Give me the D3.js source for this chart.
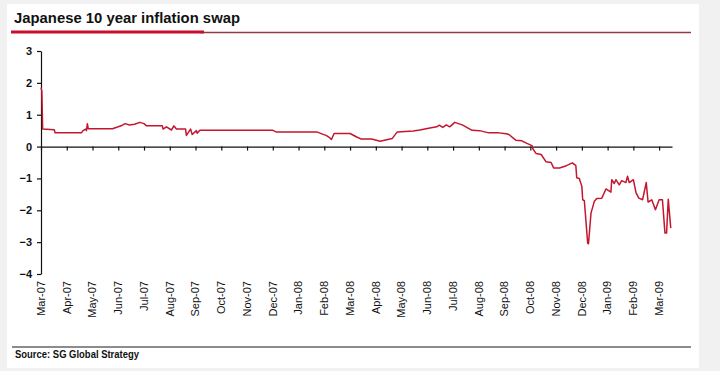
<!DOCTYPE html>
<html lang="en">
<head>
<meta charset="utf-8">
<title>Japanese 10 year inflation swap</title>
<style>
	body { margin: 0; background: #f1f1f1; }
	svg { display: block; }
	.axis text { font-family: "Liberation Sans", Arial, sans-serif; font-size: 11px; fill: #111; }
	.axis path, .axis line { stroke: #111; stroke-width: 1.2; }
</style>
</head>
<body>
<div id="chart"></div>
<script src="https://cdn.jsdelivr.net/npm/d3@7"></script>
<script>

	// month labels along the bottom, one per month from Mar-07 to Mar-09
	const months = ["Mar-07", "Apr-07", "May-07", "Jun-07", "Jul-07", "Aug-07", "Sep-07", "Oct-07",
		"Nov-07", "Dec-07", "Jan-08", "Feb-08", "Mar-08", "Apr-08", "May-08", "Jun-08", "Jul-08",
		"Aug-08", "Sep-08", "Oct-08", "Nov-08", "Dec-08", "Jan-09", "Feb-09", "Mar-09"];

	const yTicks = [-4, -3, -2, -1, 0, 1, 2, 3];

	// swap level (%)
	const dates = [
		"2007-03-01", "2007-03-02", "2007-03-03", "2007-03-17", "2007-03-18", "2007-04-18", "2007-04-20",
		"2007-04-23", "2007-04-24", "2007-04-25", "2007-04-26", "2007-05-25", "2007-06-01", "2007-06-05",
		"2007-06-09", "2007-06-14", "2007-06-20", "2007-06-26", "2007-07-01", "2007-07-04", "2007-07-23",
		"2007-07-24", "2007-07-28", "2007-08-03", "2007-08-06", "2007-08-09", "2007-08-20", "2007-08-21",
		"2007-08-26", "2007-08-28", "2007-09-02", "2007-09-03", "2007-09-06", "2007-12-01", "2007-12-05",
		"2008-01-23", "2008-01-29", "2008-02-03", "2008-02-07", "2008-02-09", "2008-02-12", "2008-03-01",
		"2008-03-09", "2008-03-14", "2008-03-27", "2008-04-06", "2008-04-20", "2008-04-26", "2008-05-15",
		"2008-05-23", "2008-06-04", "2008-06-12", "2008-06-15", "2008-06-19", "2008-06-23", "2008-06-27",
		"2008-07-03", "2008-07-12", "2008-07-24", "2008-08-02", "2008-08-13", "2008-08-25", "2008-09-03",
		"2008-09-06", "2008-09-14", "2008-09-21", "2008-09-27", "2008-10-03", "2008-10-04", "2008-10-08",
		"2008-10-14", "2008-10-20", "2008-10-26", "2008-10-29", "2008-11-05", "2008-11-13", "2008-11-20",
		"2008-11-24", "2008-11-25", "2008-11-28", "2008-12-01", "2008-12-02", "2008-12-04", "2008-12-08",
		"2008-12-09", "2008-12-12", "2008-12-16", "2008-12-19", "2008-12-25", "2008-12-30", "2009-01-05",
		"2009-01-06", "2009-01-09", "2009-01-11", "2009-01-15", "2009-01-18", "2009-01-23", "2009-01-25",
		"2009-01-27", "2009-02-01", "2009-02-04", "2009-02-07", "2009-02-11", "2009-02-15", "2009-02-17",
		"2009-02-21", "2009-02-25", "2009-03-01", "2009-03-05", "2009-03-08", "2009-03-10", "2009-03-12",
		"2009-03-15"];

	const values = [
		1.85, 1.75, 0.55, 0.53, 0.43, 0.43, 0.50,
		0.55, 0.50, 0.72, 0.56, 0.56, 0.62, 0.66,
		0.72, 0.68, 0.70, 0.76, 0.72, 0.65, 0.65,
		0.55, 0.62, 0.52, 0.65, 0.55, 0.55, 0.35,
		0.55, 0.38, 0.50, 0.42, 0.51, 0.51, 0.46,
		0.46, 0.40, 0.35, 0.28, 0.22, 0.41, 0.41,
		0.30, 0.24, 0.24, 0.17, 0.25, 0.46, 0.49,
		0.52, 0.58, 0.62, 0.67, 0.60, 0.68, 0.62,
		0.76, 0.68, 0.51, 0.50, 0.43, 0.43, 0.40,
		0.38, 0.20, 0.18, 0.10, 0.03, -0.07, -0.22,
		-0.25, -0.48, -0.50, -0.67, -0.67, -0.60, -0.51,
		-0.60, -0.98, -1.00, -1.25, -1.67, -1.70, -3.03,
		-3.05, -2.09, -1.72, -1.63, -1.62, -1.33, -1.43,
		-1.04, -1.16, -1.04, -1.20, -1.07, -1.13, -0.93,
		-1.13, -1.04, -1.46, -1.62, -1.67, -1.13, -1.74,
		-1.67, -1.98, -1.67, -1.67, -2.71, -2.71, -1.65,
		-2.56];

	// months are drawn evenly spaced, so a date becomes months since Mar-07 plus a fraction
	function monthPos(s) {
		const d = new Date(s + "T00:00:00");
		const idx = (d.getFullYear() - 2007) * 12 + d.getMonth() - 2;
		const dim = new Date(d.getFullYear(), d.getMonth() + 1, 0).getDate();
		return idx + (d.getDate() - 1) / dim;
	}

	const data = dates.map((d, i) => [monthPos(d), values[i]]);

	var width = 720, height = 371;

	var svg = d3.select("#chart")
		.append("svg")
		.attr("width", width)
		.attr("height", height);

	// white panel
	svg.append("rect")
		.attr("x", 7).attr("y", 4)
		.attr("width", 692).attr("height", 364)
		.attr("fill", "#fff");

	// title and the rule below it
	svg.append("text")
		.attr("x", 14).attr("y", 23)
		.attr("textLength", 226)
		.attr("lengthAdjust", "spacingAndGlyphs")
		.style("font-family", "'Liberation Sans', Arial, sans-serif")
		.style("font-weight", "bold")
		.style("font-size", "15.5px")
		.attr("fill", "#111")
		.text("Japanese 10 year inflation swap");

	svg.append("line")
		.attr("x1", 200).attr("x2", 691).attr("y1", 32.5).attr("y2", 32.5)
		.attr("stroke", "#8e3a47").attr("stroke-width", 1.3);

	svg.append("line")
		.attr("x1", 11).attr("x2", 204).attr("y1", 32).attr("y2", 32)
		.attr("stroke", "#c8102e").attr("stroke-width", 3);

	// scales
	const x = d3.scaleLinear()
		.domain([0, 24.5])
		.range([41, 672]);

	const y = d3.scaleLinear()
		.domain([-4, 3])
		.range([274, 51]);

	// Y Axis
	svg.append("g")
		.attr("class", "axis")
		.attr("transform", "translate(41,0)")
		.call(d3.axisLeft(y).tickValues(yTicks).tickSize(4).tickSizeOuter(0).tickPadding(5).tickFormat(d3.format("d")))
		.selectAll("text")
		.style("font-weight", "bold");

	// X Axis at zero, ticks only
	svg.append("g")
		.attr("class", "axis")
		.attr("transform", "translate(0," + y(0) + ")")
		.call(d3.axisBottom(x).tickValues(d3.range(months.length)).tickSize(4).tickSizeOuter(0).tickFormat(""));

	// month labels at the bottom, rotated
	svg.append("g")
		.selectAll("text")
		.data(months)
		.join("text")
		.attr("transform", (d, i) => "translate(" + x(i) + ",281) rotate(-90)")
		.attr("dy", "0.35em")
		.attr("text-anchor", "end")
		.style("font-family", "'Liberation Sans', Arial, sans-serif")
		.style("font-size", "11px")
		.attr("fill", "#111")
		.text(d => d);

	// the swap line
	svg.append("path")
		.datum(data)
		.attr("fill", "none")
		.attr("stroke", "#c4162f")
		.attr("stroke-width", 1.5)
		.attr("stroke-linejoin", "round")
		.attr("d", d3.line()
			.x(function (d) { return x(d[0]) })
			.y(function (d) { return y(d[1]) })
		);

	// source line
	svg.append("line")
		.attr("x1", 12).attr("x2", 691).attr("y1", 347).attr("y2", 347)
		.attr("stroke", "#666").attr("stroke-width", 1.5);

	svg.append("text")
		.attr("x", 15).attr("y", 358)
		.attr("textLength", 124)
		.attr("lengthAdjust", "spacingAndGlyphs")
		.style("font-family", "'Liberation Sans', Arial, sans-serif")
		.style("font-weight", "bold")
		.style("font-size", "11px")
		.attr("fill", "#111")
		.text("Source: SG Global Strategy");

</script>
</body>
</html>
